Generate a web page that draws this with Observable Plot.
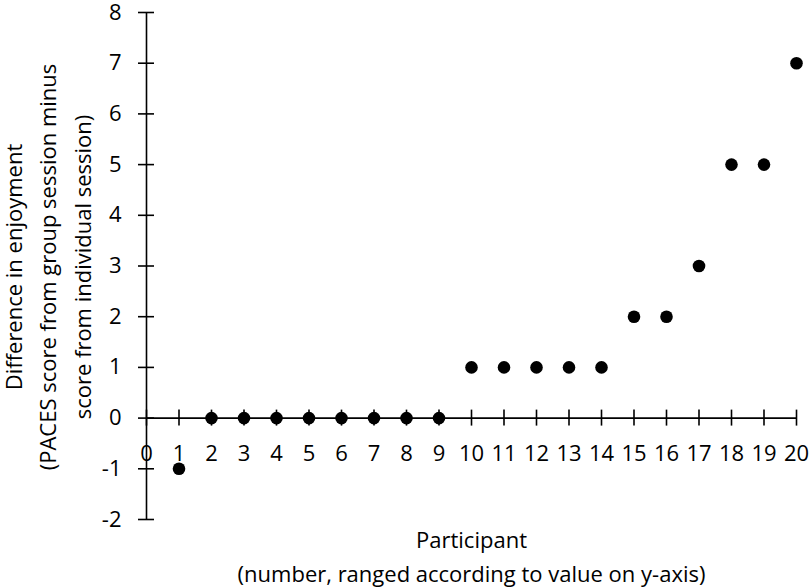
<!DOCTYPE html>
<html>
<head>
<meta charset="utf-8">
<script src="https://cdn.jsdelivr.net/npm/d3@7"></script>
<script src="https://cdn.jsdelivr.net/npm/@observablehq/plot@0.6"></script>
<style>
  html, body { margin: 0; padding: 0; background: #fff; }
</style>
</head>
<body>
<div id="chart"></div>
<script>
const participants = [1,2,3,4,5,6,7,8,9,10,11,12,13,14,15,16,17,18,19,20];
const differences  = [-1,0,0,0,0,0,0,0,0,1,1,1,1,1,2,2,3,5,5,7];
const xTicks = [0,1,2,3,4,5,6,7,8,9,10,11,12,13,14,15,16,17,18,19,20];
const yTicks = [-2,-1,0,1,2,3,4,5,6,7,8];
const yTitle = ["Difference in enjoyment\n(PACES score from group session minus\nscore from individual session)"];
const xTitle = ["Participant\n(number, ranged according to value on y-axis)"];

const data = participants.map((p, i) => ({participant: p, diff: differences[i]}));

const FS = 22;
const chart = Plot.plot({
  width: 810,
  height: 588,
  marginLeft: 146,
  marginRight: 14,
  marginTop: 12,
  marginBottom: 69,
  style: {fontFamily: "'Open Sans', Lato, sans-serif", fontSize: FS + "px", color: "#000", background: "#fff"},
  x: {domain: [0, 20], axis: null},
  y: {domain: [-2, 8], axis: null},
  marks: [
    // axis lines
    Plot.ruleY([0], {x1: 0, x2: 20, stroke: "#000", strokeWidth: 1.6}),
    Plot.ruleX([0], {y1: -2, y2: 8, stroke: "#000", strokeWidth: 1.6}),
    // crossing ticks
    Plot.ruleX(xTicks, {x: d => d, y1: 0, y2: 0, insetTop: -8, insetBottom: -8, stroke: "#000", strokeWidth: 1.6}),
    Plot.ruleY(yTicks, {y: d => d, x1: 0, x2: 0, insetLeft: -8, insetRight: -8, stroke: "#000", strokeWidth: 1.6}),
    // tick labels
    Plot.text(xTicks, {x: d => d, y: 0, dy: 36, text: d => String(d), fontSize: FS, fill: "#000"}),
    Plot.text(yTicks, {x: 0, y: d => d, dx: -25, textAnchor: "end", text: d => String(d), fontSize: FS, fill: "#000"}),
    // points
    Plot.dot(data, {x: "participant", y: "diff", r: 6.3, fill: "#000", stroke: "none"}),
    // axis titles
    Plot.text(yTitle, {frameAnchor: "left", textAnchor: "middle", lineAnchor: "middle", dx: -101, dy: 1, rotate: -90, lineHeight: 1.55, fontSize: FS, fill: "#000", text: d => d}),
    Plot.text(xTitle, {frameAnchor: "bottom", textAnchor: "middle", lineAnchor: "middle", dy: 35, lineHeight: 1.55, fontSize: FS, fill: "#000", text: d => d})
  ]
});
document.getElementById("chart").appendChild(chart);
</script>
</body>
</html>
